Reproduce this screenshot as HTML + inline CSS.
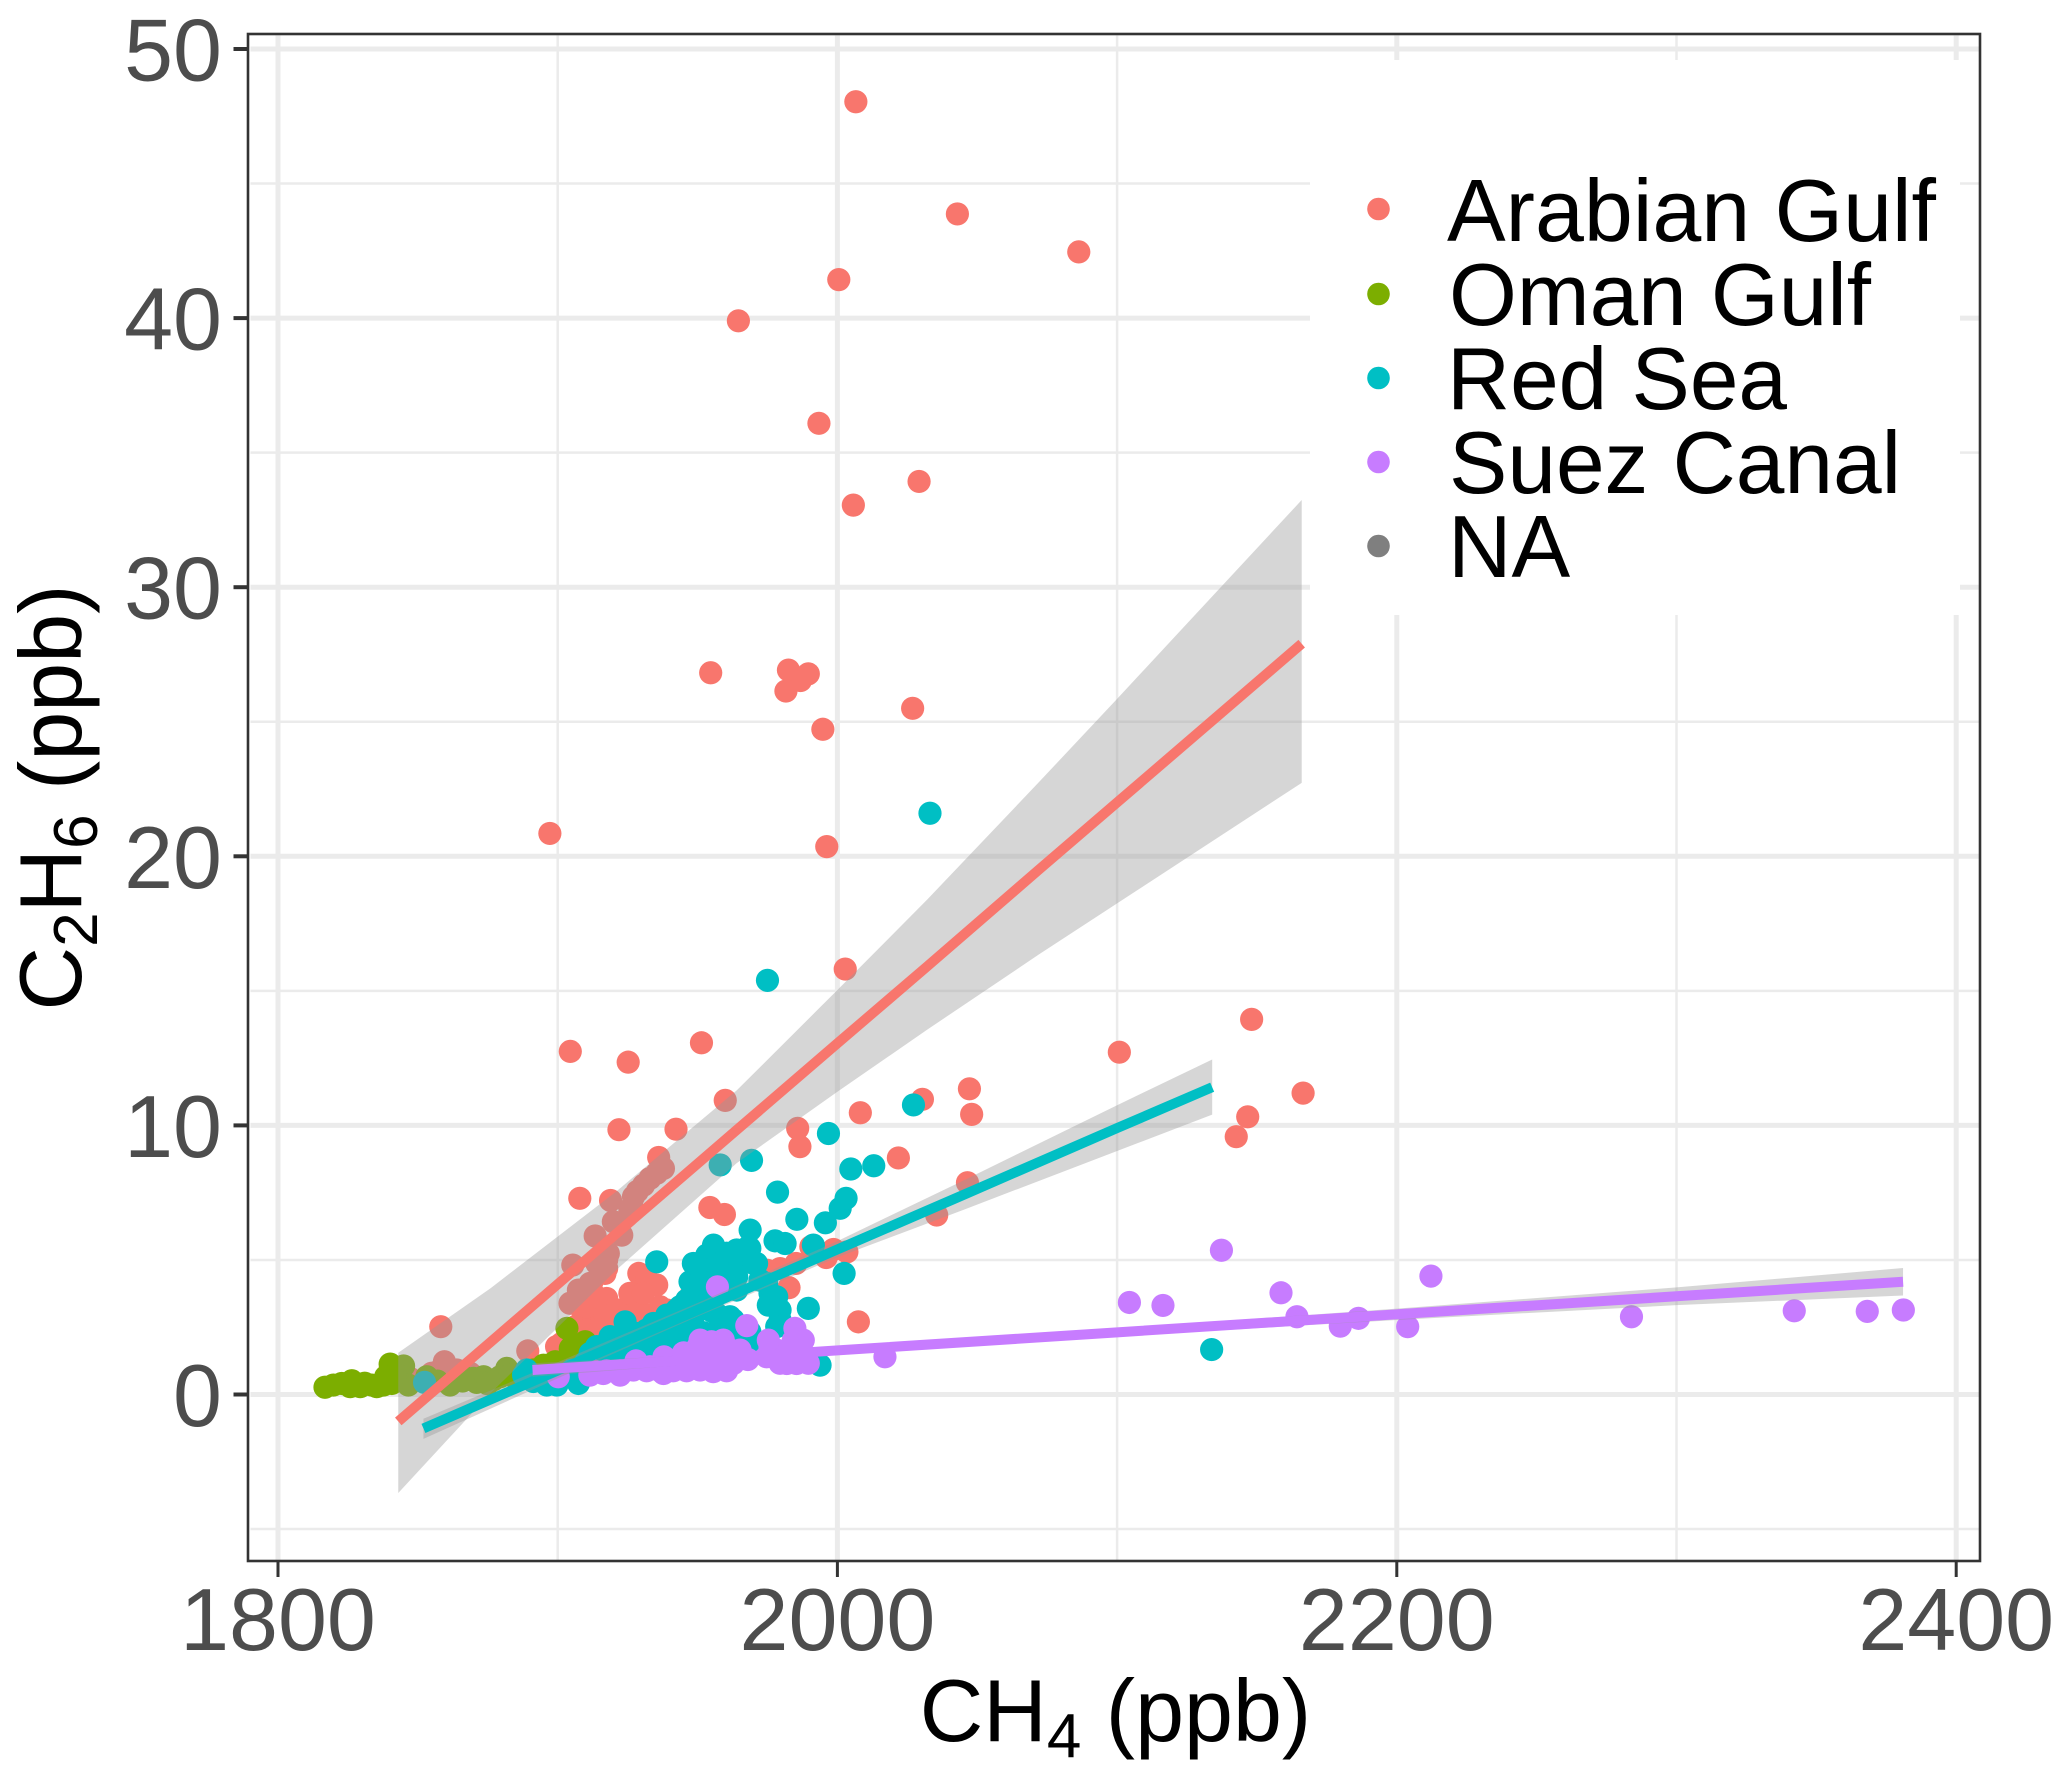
<!DOCTYPE html>
<html lang="en">
<head>
<meta charset="utf-8">
<title>C2H6 vs CH4 scatter</title>
<style>
html,body{margin:0;padding:0;background:#fff;}
svg{display:block;}
text{font-family:"Liberation Sans",Arial,sans-serif;}
</style>
</head>
<body>
<svg id="chart" xmlns="http://www.w3.org/2000/svg" width="2067" height="1776" viewBox="0 0 2067 1776">
  <rect x="0" y="0" width="2067" height="1776" fill="#ffffff"/>
  <g id="grid"></g>
  <g id="points"></g>
  <g id="fits"></g>
  <g id="legend">
    <rect x="1310" y="60" width="650" height="555" fill="#ffffff"/>
    <g>
      <circle cx="1378.5" cy="209" r="11.3" fill="#F8766D"/>
      <text x="1447" y="241" font-size="88" fill="#000" textLength="489" lengthAdjust="spacingAndGlyphs">Arabian Gulf</text>
    </g>
    <g>
      <circle cx="1378.5" cy="294" r="11.3" fill="#7CAE00"/>
      <text x="1449" y="325" font-size="88" fill="#000" textLength="422" lengthAdjust="spacingAndGlyphs">Oman Gulf</text>
    </g>
    <g>
      <circle cx="1378.5" cy="378" r="11.3" fill="#00BFC4"/>
      <text x="1447" y="409" font-size="88" fill="#000" textLength="340" lengthAdjust="spacingAndGlyphs">Red Sea</text>
    </g>
    <g>
      <circle cx="1378.5" cy="462" r="11.3" fill="#C77CFF"/>
      <text x="1449" y="493" font-size="88" fill="#000" textLength="452" lengthAdjust="spacingAndGlyphs">Suez Canal</text>
    </g>
    <g>
      <circle cx="1378.5" cy="546" r="11.3" fill="#7F7F7F"/>
      <text x="1448" y="577" font-size="88" fill="#000">NA</text>
    </g>
  </g>
  <rect x="248" y="34" width="1732" height="1527" fill="none" stroke="#333333" stroke-width="2.6"/>
  <g id="axes"></g>
  <text x="1115.5" y="1741" text-anchor="middle" font-size="88" fill="#000">CH<tspan font-size="62" dy="16">4</tspan><tspan dy="-16"> (ppb)</tspan></text>
  <text transform="translate(81,797.5) rotate(-90)" text-anchor="middle" font-size="88" fill="#000">C<tspan font-size="62" dy="16">2</tspan><tspan dy="-16">H</tspan><tspan font-size="62" dy="16">6</tspan><tspan dy="-16"> (ppb)</tspan></text>
</svg>
<script>
const xTicks = [1800, 2000, 2200, 2400];
const xMinorGrid = [1900, 2100, 2300];
const yTicks = [0, 10, 20, 30, 40, 50];
const yMinorGrid = [-5, 5, 15, 25, 35, 45];

const arabianGulf = [
[2006.6,48.04],[2042.9,43.87],[2086.3,42.46],[2000.5,41.43],[1964.6,39.9],[1993.4,36.09],[2005.7,33.05],[2029.2,33.93],
[1954.7,26.82],[1982.5,26.92],[1989.6,26.78],[1986.8,26.53],[1981.6,26.14],[2026.9,25.5],[1994.8,24.72],[1897.2,20.85],
[1996.2,20.36],[2002.8,15.81],[1904.5,12.75],[1925.2,12.35],[1951.4,13.07],[2148.1,13.94],[2100.8,12.72],[2166.5,11.2],
[2047.2,11.36],[2146.7,10.32],[2142.6,9.58],[2048,10.41],[2030.4,10.97],[2008.2,10.47],[1959.9,10.93],[1921.9,9.84],
[1942.3,9.86],[1985.8,9.89],[1986.6,9.21],[2021.8,8.79],[1936.1,8.81],[2046.5,7.87],[1907.9,7.29],[1918.9,7.21],
[1954.4,6.95],[1959.6,6.69],[2035.5,6.67],[2007.5,2.7],[1982.7,3.97],[2003.4,5.3],[1990.5,5.49],[1998.6,5.39],[1996,5.09],
[1985.2,4.87],[1979.5,4.68],[1974.8,4.62],[1929,4.5],[1931.8,4.31],[1935.4,4.07],[1928.9,3.7],[1917.5,3.57],[1905.4,4.81],
[1937.8,8.4],[1935.4,8.22],[1933,8.03],[1930.7,7.78],[1927.1,7.35],[1926.5,6.98],[1928.5,7.55],[1919.9,6.42],[1922.9,5.92],
[1913.4,5.89],[1918.1,5.24],[1914,4.87],[1917.5,4.69],[1911.6,4.13],[1909.2,3.88],[1906.8,3.57],[1916.9,4.5],[1917.5,5],
[1912.1,4.13],[1904.4,3.39],[1907.4,3.88],[1925.8,6.86],
[1913.3,3.26],[1909.1,2.89],[1906.2,2.52],[1922.3,3.14],[1927,3],[1928.8,3.57],[1932.4,2.95],[1939,3.14],[1916.3,2.64],
[1922.3,2.39],[1928.2,2.64],[1910.3,2.39],[1904.4,1.65],[1901.4,1.9],[1900.8,1.4],[1906.8,2],[1915.1,2.02],[1934.8,4.07],
[1947.9,3.76],[1858.2,2.52],[1859.5,1.22],[1889.3,1.62],[1843.7,.91],[1847.2,.6],[1855,.79],[1863.9,.91],[1868.7,.79],
[1862.1,.54],[1858,.91],[1840,.91],[1926,1.5],[1918,1.5],[1934,1.8],
[1910.3,3.26],[1913.9,3.63],[1917,2.9],[1925,2.9],[1936.6,3.26],[1915.1,2.4],[1929.4,2.4],[1905.6,2],[1908,1.4],[1902,1.15],
[1899.6,1.78],[1925.8,3.76],[1930.6,3.76],[1912,1.9],[1920,2],[1928,1.9],[1936,2.4],[1942,3.1]
];
const omanGulf = [
[1816.8,.27],[1819.8,.35],[1822.8,.41],[1826.4,.51],[1829.4,.29],[1833.5,.35],[1837.7,.35],[1840.7,.41],[1840.1,1.13],
[1844.9,1.06],[1843.7,.66],[1838.5,.66],[1846.6,.35],[1835.3,.29],[1825.8,.29],[1853.2,.66],[1861.5,.35],[1873.5,.66],
[1877,.54],[1881.8,.97],[1879.4,.66],[1883,.72],[1869.9,.6],[1866.3,.66],[1894.9,1.09],[1899.1,1.22],[1903.3,2.46],
[1904.5,1.71],[1909.8,1.96],[1905.5,1.85],[1908,1.65],[1891.3,.91],[1871,.45],[1875,.4],[1857,.5],[1866,.5],[1886,.6],[1831,.42],
[1842,.75],[1897,1.1]
];
const redSea = [
[2033.1,21.6],[1975,15.39],[1969.3,8.7],[1958.1,8.53],[1996.8,9.7],[2027.2,10.76],[2004.8,8.38],[2013,8.5],[1978.6,7.52],
[1985.5,6.51],[1995.7,6.38],[2001,6.92],[2003.1,7.29],[1968.8,6.11],[1955.7,5.55],[1977.7,5.71],[1981.3,5.61],[1991.4,5.55],
[2002.4,4.5],[1935.4,4.93],[2133.8,1.67],[1953.3,5.18],[1947.3,4.19],[1949.7,4.5],[1964,5.37],[1960.4,5.25],[1968.7,5.43],
[1971.1,4.87],[1989.6,3.2],[1975.3,3.32],[1979.5,2.77],[1975.9,3.76],[1968.7,2.33],[1958,2.77],[1962.8,2.77],[1993.8,1.09],
[1964,3.88],[1974.7,4.13],[1958,3.88],[1948.5,3.76],[1943.7,3.26],[1939,2.95],[1934.2,2.64],[1928.2,2.27],[1924.1,2.7],
[1918.7,2.15],[1913.9,1.78],[1922.3,2],[1934.2,2.15],[1940.1,2.52],[1948.5,2.89],[1943.7,2.15],[1937.8,1.65],[1946.1,1.78],
[1958,2.4],[1922.3,1.15],[1928.2,1.28],[1913.9,1.15],[1908,.54],[1900.8,.54],[1896,.66],[1888.9,.91],[1852.4,.45],
[1887.8,.72],[1891.3,.48],[1899.7,.35],[1907.4,.41],[1896.1,.35],[1911.6,1.53],[1953,3.4],[1952,2.3],
[1966,2],[1971,1.8],[1990.5,1.2],[1955,3.1],[1932,1.2],[1942,1.2],
[1948.5,4.87],[1953.3,4.63],[1958,4.63],[1962.8,4.75],[1958,4.13],[1953.3,4.13],[1960.4,4.87],[1964,4.38],[1965.2,4.87],
[1968.2,5.49],[1970,4.87],[1972.3,4.25],[1977.1,3.39],[1978.3,3.63],[1979.5,3.14],[1978.3,2.52],
[1917.5,1.65],[1924.6,1.65],[1931.8,1.65],[1939,2.02],[1946.1,2.4],[1924.6,2.15],[1931.8,2.4],[1942.5,3.14],[1946.1,3.51],
[1950.9,3.26],[1956.8,3],[1961.6,2.89],[1967.6,2.4],[1958,2.15],[1964,2.4],[1953.3,2.15],[1939,1.15],[1946.1,1.4],[1931.8,1.15],
[1905,.9],[1910,1.2],[1916,.9]
];
const suezCanal = [
[1957.1,4],[1967.6,2.56],[1950.9,2.02],[1955,1.96],[1959.2,2.02],[1975.9,1.78],[1984.8,2.46],[1987.8,2.02],[1989.6,1.16],
[1979.5,1.16],[1962.8,1.15],[1958,1.03],[1950.9,.91],[1943.7,1.15],[1937.8,.78],[1933,1.03],[1927,.91],[1922.3,.72],
[1916.3,.78],[1911.5,.72],[1900.2,.66],[1953.3,1.4],[1958,1.65],[1974.7,1.4],[1955.6,.85],[2017,1.4],[2104.4,3.42],
[2116.4,3.31],[2137.3,5.36],[2158.6,3.78],[2164.3,2.89],[2179.8,2.54],[2186.3,2.83],[2203.9,2.52],[2212.2,4.4],[2283.9,2.89],
[2342.1,3.11],[2368.2,3.09],[2381.1,3.14],
[1912.7,.88],[1917.5,.88],[1922.3,.88],[1931.8,.88],[1936.6,.88],[1941.3,.88],[1946.1,.88],[1955.6,1.1],[1960.4,.88],
[1928,1.25],[1938,1.4],[1945,1.55],[1950,1.75],[1955,1.7],[1960,1.8],[1965.2,1.65],[1968,1.3],
[1978.3,1.65],[1981.9,1.15],[1985.4,1.15],[1984.2,2],[1975.3,2.02]
];
const naSamples = [];

const arabianFitX = [1843, 1876, 1921, 1964, 2000, 2032, 2072, 2100, 2166];
const arabianFitY = [-1, 1.95, 5.98, 9.83, 13.05, 15.9, 19.5, 22, 27.9];
const arabianFitUpper = [1.55, 3.95, 7.55, 11.3, 15.03, 18.38, 22.75, 25.85, 33.24];
const arabianFitLower = [-3.66, .05, 4.63, 8.6, 11.25, 13.55, 16.35, 18.25, 22.73];

const redSeaFitX = [1852, 1900, 1950, 2000, 2046, 2100, 2134];
const redSeaFitY = [-1.26, .89, 3.14, 5.39, 7.46, 9.9, 11.42];
const redSeaFitUpper = [-.9, 1.2, 3.4, 5.7, 8, 10.75, 12.45];
const redSeaFitLower = [-1.65, .6, 2.9, 5.1, 6.9, 9.05, 10.4];

const suezFitX = [1891, 1960, 2100, 2200, 2300, 2381];
const suezFitY = [.91, 1.37, 2.31, 2.98, 3.65, 4.19];
const suezFitUpper = [1.16, 1.52, 2.46, 3.19, 3.98, 4.7];
const suezFitLower = [.66, 1.22, 2.16, 2.77, 3.32, 3.68];

const SVGNS = 'http://www.w3.org/2000/svg';
function xScale(v){ return 278 + 2.797 * (v - 1800); }
function yScale(v){ return 1394.5 - 26.91 * v; }
function make(tag, parent){
  const el = document.createElementNS(SVGNS, tag);
  parent.appendChild(el);
  return el;
}
function line(parent, x1, y1, x2, y2, color, width){
  const el = make('line', parent);
  el.setAttribute('x1', x1);
  el.setAttribute('y1', y1);
  el.setAttribute('x2', x2);
  el.setAttribute('y2', y2);
  el.setAttribute('stroke', color);
  el.setAttribute('stroke-width', width);
  return el;
}

const gridG = document.getElementById('grid');
const GRID = '#EBEBEB';
yMinorGrid.forEach(function(v){
  const el = line(gridG, 250.5, yScale(v), 1979, yScale(v), GRID, 2.5);
  
  
});
xMinorGrid.forEach(function(v){
  const el = line(gridG, xScale(v), 35.5, xScale(v), 1560, GRID, 2.5);
  
  
});
yTicks.forEach(function(v){
  const el = line(gridG, 250.5, yScale(v), 1979, yScale(v), GRID, 5);
  
  
});
xTicks.forEach(function(v){
  const el = line(gridG, xScale(v), 35.5, xScale(v), 1560, GRID, 5);
  
  
});

const pointsG = document.getElementById('points');
function drawPoints(values, color, name){
  values.forEach(function(p){
    const c = make('circle', pointsG);
    c.setAttribute('cx', xScale(p[0]));
    c.setAttribute('cy', yScale(p[1]));
    c.setAttribute('r', 11.6);
    c.setAttribute('fill', color);
    
    
  });
}
drawPoints(arabianGulf, '#F8766D', 'point-arabian-gulf');
drawPoints(omanGulf, '#7CAE00', 'point-oman-gulf');
drawPoints(redSea, '#00BFC4', 'point-red-sea');
drawPoints(suezCanal, '#C77CFF', 'point-suez-canal');
drawPoints(naSamples, '#7F7F7F', 'point-na');

const fitsG = document.getElementById('fits');
function drawFit(xs, ys, upper, lower, color, name){
  const up = xs.map(function(x, i){ return xScale(x) + ',' + yScale(upper[i]); });
  const lo = xs.map(function(x, i){ return xScale(x) + ',' + yScale(lower[i]); }).reverse();
  const band = make('polygon', fitsG);
  band.setAttribute('points', up.concat(lo).join(' '));
  band.setAttribute('fill', '#999999');
  band.setAttribute('fill-opacity', '0.4');
  
  
  const path = make('polyline', fitsG);
  path.setAttribute('points', xs.map(function(x, i){ return xScale(x) + ',' + yScale(ys[i]); }).join(' '));
  path.setAttribute('fill', 'none');
  path.setAttribute('stroke', color);
  path.setAttribute('stroke-width', 10);
  
  
}
drawFit(arabianFitX, arabianFitY, arabianFitUpper, arabianFitLower, '#F8766D', 'arabian-gulf');
drawFit(redSeaFitX, redSeaFitY, redSeaFitUpper, redSeaFitLower, '#00BFC4', 'red-sea');
drawFit(suezFitX, suezFitY, suezFitUpper, suezFitLower, '#C77CFF', 'suez-canal');

const axesG = document.getElementById('axes');
yTicks.forEach(function(v){
  const t = line(axesG, 233.5, yScale(v), 248, yScale(v), '#333333', 4);
  
  
  const label = make('text', axesG);
  label.setAttribute('x', 222);
  label.setAttribute('y', yScale(v) + 31.5);
  label.setAttribute('text-anchor', 'end');
  label.setAttribute('font-size', 88);
  label.setAttribute('fill', '#4D4D4D');
  
  
  label.textContent = v;
});
xTicks.forEach(function(v){
  const t = line(axesG, xScale(v), 1561, xScale(v), 1577, '#333333', 3);
  
  
  const label = make('text', axesG);
  label.setAttribute('x', xScale(v));
  label.setAttribute('y', 1650);
  label.setAttribute('text-anchor', 'middle');
  label.setAttribute('font-size', 88);
  label.setAttribute('fill', '#4D4D4D');
  
  
  label.textContent = v;
});
</script>
</body>
</html>
